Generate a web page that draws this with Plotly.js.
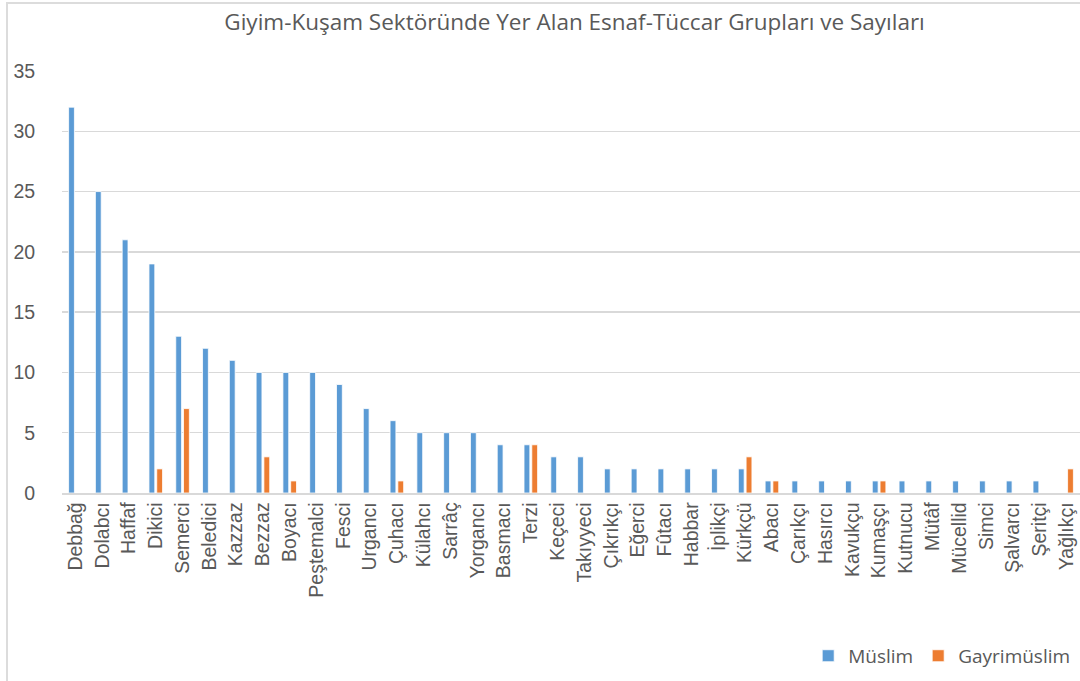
<!DOCTYPE html>
<html>
<head>
<meta charset="utf-8">
<script src="https://cdn.plot.ly/plotly-3.0.1.min.js"></script>
<style>
  html, body { margin: 0; padding: 0; background: #fff; overflow: hidden; }
  #chart { width: 1080px; height: 681px; }
  #frame { position: absolute; left: 6px; top: 2px; width: 1200px; height: 800px;
           border-left: 2px solid #dcdcdc; border-top: 2px solid #dcdcdc; pointer-events: none; }
</style>
</head>
<body>
<div id="chart"></div>
<div id="frame"></div>
<script>
const categories = ["Debbağ","Dolabcı","Haffaf","Dikici","Semerci","Beledici","Kazzaz","Bezzaz","Boyacı","Peştemalci","Fesci","Urgancı","Çuhacı","Külahcı","Sarrâç","Yorgancı","Basmacı","Terzi","Keçeci","Takıyyeci","Çıkrıkçı","Eğerci","Fûtacı","Habbar","İplikçi","Kürkçü","Abacı","Çarıkçı","Hasırcı","Kavukçu","Kumaşçı","Kutnucu","Mütâf","Mücellid","Simci","Şalvarcı","Şeritçi","Yağlıkçı"];
const muslim = [32,25,21,19,13,12,11,10,10,10,9,7,6,5,5,5,4,4,3,3,2,2,2,2,2,2,1,1,1,1,1,1,1,1,1,1,1,0];
const gayrimuslim = [0,0,0,2,7,0,0,3,1,0,0,0,1,0,0,0,0,4,0,0,0,0,0,0,0,3,1,0,0,0,1,0,0,0,0,0,0,2];
const yTicks = [0,5,10,15,20,25,30,35];

const textColor = '#595959';
const traces = [
  { type: 'bar', name: 'Müslim', x: categories, y: muslim,
    marker: { color: '#5B9BD5', line: { color: '#ffffff', width: 0.8 } } },
  { type: 'bar', name: 'Gayrimüslim', x: categories, y: gayrimuslim,
    marker: { color: '#ED7D31', line: { color: '#ffffff', width: 0.8 } } }
];

const layout = {
  width: 1080, height: 681,
  paper_bgcolor: '#ffffff', plot_bgcolor: '#ffffff',
  margin: { l: 62, r: 0, t: 71, b: 188, autoexpand: false },
  title: { text: 'Giyim-Kuşam Sektöründe Yer Alan Esnaf-Tüccar Grupları ve Sayıları',
           font: { family: 'Open Sans, sans-serif', size: 22.5, color: textColor },
           x: 0.532, xanchor: 'center', y: 0.967, yanchor: 'middle' },
  barmode: 'group', bargap: 0.42, bargroupgap: 0.25,
  showlegend: true,
  legend: { orientation: 'h', x: 0.733, xanchor: 'left', y: -0.386, yanchor: 'middle',
            font: { family: 'Open Sans, sans-serif', size: 19, color: textColor },
            itemclick: false, bgcolor: 'rgba(0,0,0,0)', traceorder: 'normal' },
  xaxis: { type: 'category', range: [-0.5, 37.5], tickangle: -90, automargin: false,
           tickfont: { family: 'Liberation Sans, Arial, sans-serif', size: 19.5, color: textColor },
           showgrid: false, showline: true, linecolor: '#d9d9d9', linewidth: 1.5,
           ticks: '', fixedrange: true },
  yaxis: { range: [0, 35], tickvals: yTicks, ticktext: yTicks.map(String), automargin: false,
           tickfont: { family: 'Liberation Sans, Arial, sans-serif', size: 19.5, color: textColor },
           gridcolor: '#d9d9d9', gridwidth: 1.5, zeroline: false, showline: false,
           ticks: 'outside', ticklen: 22, tickcolor: 'rgba(0,0,0,0)', fixedrange: true }
};

Plotly.newPlot('chart', traces, layout, { displayModeBar: false, staticPlot: true });
</script>
</body>
</html>
